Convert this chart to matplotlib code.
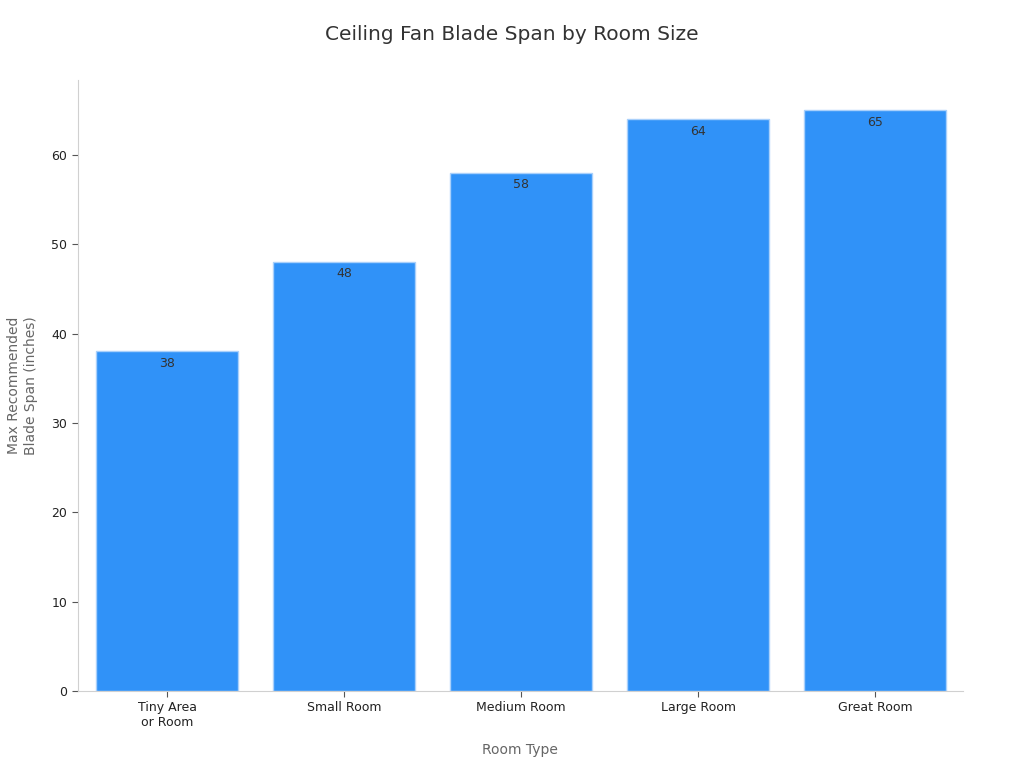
import matplotlib
matplotlib.use("Agg")
import matplotlib.pyplot as plt

# chart data
rooms = ["Tiny Area\nor Room", "Small Room", "Medium Room", "Large Room", "Great Room"]
spans = [38, 48, 58, 64, 65]

plt.rcParams["font.family"] = ["DejaVu Sans"]

fig = plt.figure(figsize=(10.24, 7.68), dpi=100)
ax = fig.add_axes([0.076, 0.1003, 0.864, 0.7957])

bars = ax.bar(range(len(rooms)), spans, width=0.8, color="#3092F8",
              edgecolor="#A9D0FB", linewidth=1)

for b, v in zip(bars, spans):
    ax.text(b.get_x() + b.get_width() / 2, v - 0.6, str(v),
            ha="center", va="top", fontsize=9, color="#333333")

ax.set_xlim(-0.505, 4.495)
ax.set_ylim(0, 68.4)
ax.set_xticks(range(len(rooms)))
ax.set_xticklabels(rooms, fontsize=9, color="#222222")
ax.set_yticks([0, 10, 20, 30, 40, 50, 60])
ax.tick_params(axis="y", labelsize=9, colors="#222222", length=4, color="#555555")
ax.tick_params(axis="x", length=4, color="#555555")

for s in ["top", "right"]:
    ax.spines[s].set_visible(False)
ax.spines["left"].set_color("#D0D0D0")
ax.spines["bottom"].set_color("#D0D0D0")

ax.set_xlabel("Room Type", fontsize=10, color="#666666", labelpad=10)
ax.set_ylabel("Max Recommended\nBlade Span (inches)", fontsize=10,
              color="#666666", labelpad=10)
fig.suptitle("Ceiling Fan Blade Span by Room Size", fontsize=14.5,
             color="#333333", y=0.968)

fig.savefig("out.png", dpi=100)
